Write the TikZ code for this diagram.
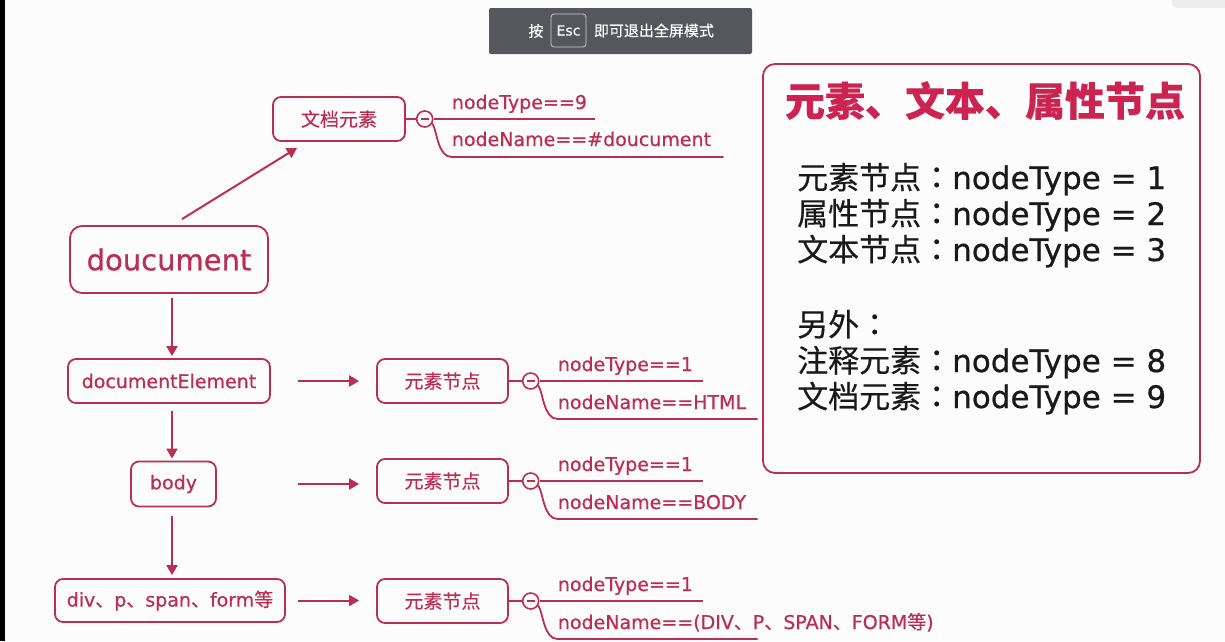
\documentclass[tikz,border=0pt]{standalone}
\usepackage{fontspec}
\setmainfont{DejaVu Sans}[FakeBold=0.6]
\newfontfamily\cjk{Noto Sans CJK SC}[FakeBold=0.4]
\newfontfamily\cjkcolon{Noto Sans CJK TC}[FakeBold=0.4]
\usetikzlibrary{positioning,arrows.meta}
\definecolor{domred}{RGB}{186,46,84}
\definecolor{titlered}{RGB}{204,36,82}
\definecolor{bargray}{RGB}{85,87,91}

\begin{document}
\begin{tikzpicture}[
    x=1pt, y=-1pt,
    node distance=10pt,
    domnode/.style={rectangle, rounded corners=8pt, draw=domred, line width=1.8pt, text=domred, font=\fontsize{19}{19}\selectfont, inner sep=0pt},
    cjknode/.style={domnode, font=\cjk\fontsize{19}{19}\selectfont},
    fold/.style={circle, draw=domred, line width=1.6pt, minimum size=16pt, inner sep=0pt},
    twig/.style={draw=domred, line width=1.8pt},
    leaf/.style={text=domred, font=\fontsize{19}{19}\selectfont, anchor=base west, inner sep=0pt},
    flow/.style={draw=domred, line width=2pt, -{Triangle[length=10pt,width=11pt]}},
    fact/.style={anchor=base west, inner sep=0pt, text=black!90, font=\fontsize{31}{31}\selectfont}
    ]
    \useasboundingbox (0,0) rectangle (1225,641);
    \fill[white!99!black] (0,0) rectangle (1225,641);
    \fill[black] (0,0) rectangle (5,641);
    \fill[black!7, rounded corners=6pt] (1172,-10) rectangle (1235,8);

    \node (escbar) [fill=bargray, rounded corners=2pt, minimum width=263pt, minimum height=46pt] at (620.5,31) {};
    \node (press) [text=white, font=\cjk\fontsize{15}{15}\selectfont] at (536,31) {按};
    \node (esckey) [draw=white!80!black, line width=0.8pt, rounded corners=3pt, minimum width=35pt, minimum height=33pt, text=white, font=\fontsize{14}{14}\selectfont] at (568.5,30.5) {Esc};
    \node (quit) [text=white, font=\cjk\fontsize{15}{15}\selectfont, right=4pt of esckey] {即可退出全屏模式};

    \node (doc) [domnode, minimum width=198pt, minimum height=67pt, rounded corners=12pt, font=\fontsize{29}{29}\selectfont] at (169,259.5) {doucument};
    \node (docnode) [cjknode, minimum width=132pt, minimum height=44pt] at (339,119) {文档元素};
    \node (docel) [domnode, minimum width=202pt, minimum height=44pt] at (169,381) {documentElement};
    \node (body) [domnode, minimum width=85pt, minimum height=45pt] at (173.5,484) {body};
    \node (tags) [domnode, minimum width=230pt, minimum height=43pt] at (170,600.5) {div{\cjk 、}p{\cjk 、}span{\cjk 、}form{\cjk 等}};

    \coordinate (spine) at (172,0);
    \coordinate (arrowstart) at (298,0);
    \draw[flow] ([xshift=13pt,yshift=6pt]doc.north) -- ([xshift=-42pt,yshift=-6pt]docnode.south);
    \draw[flow, shorten <=4pt, shorten >=2pt] (spine |- doc.south) -- (spine |- docel.north);
    \draw[flow, shorten <=7pt, shorten >=2pt] (spine |- docel.south) -- (spine |- body.north);
    \draw[flow, shorten <=9pt, shorten >=3pt] (spine |- body.south) -- (spine |- tags.north);

    \node (fold0) [fold, right=of docnode] {};
    \draw[twig] (docnode.east) -- (fold0.west);
    \draw[twig, line width=1.4pt] ([xshift=-4pt]fold0.center) -- ([xshift=4pt]fold0.center);
    \coordinate (typeend0) at ([xshift=170pt]fold0.center);
    \coordinate (nameend0) at ([xshift=299pt,yshift=-38pt]fold0.center);
    \draw[twig] (fold0.east) -- (typeend0);
    \draw[twig] (fold0.-30) .. controls +(5,8) and +(-14,0) .. ([xshift=27pt,yshift=-38pt]fold0.center) -- (nameend0);
    \node (typetext0) [leaf] at ([xshift=27pt,yshift=10pt]fold0.center) {nodeType==9};
    \node (nametext0) [leaf] at ([xshift=27pt,yshift=-27pt]fold0.center) {nodeName==\#doucument};

    \foreach \row/\y/\src/\tail in {1/381/docel/HTML, 2/481/body/BODY, 3/601/tags/{(DIV{\cjk 、}P{\cjk 、}SPAN{\cjk 、}FORM{\cjk 等})}} {
      \node (el\row) [cjknode, minimum width=131pt, minimum height=44pt] at (442.5,\y) {元素节点};
      \draw[flow, shorten >=17pt] (arrowstart |- \src.east) -- (el\row.west |- \src.east);
      \node (fold\row) [fold, right=13pt of el\row] {};
      \draw[twig] (el\row.east) -- (fold\row.west);
      \draw[twig, line width=1.4pt] ([xshift=-4pt]fold\row.center) -- ([xshift=4pt]fold\row.center);
      \coordinate (typeend\row) at ([xshift=172pt]fold\row.center);
      \coordinate (nameend\row) at ([xshift=227pt,yshift=-38pt]fold\row.center);
      \draw[twig] (fold\row.east) -- (typeend\row);
      \draw[twig] (fold\row.-30) .. controls +(5,8) and +(-14,0) .. ([xshift=27pt,yshift=-38pt]fold\row.center) -- (nameend\row);
      \node (typetext\row) [leaf] at ([xshift=27pt,yshift=10pt]fold\row.center) {nodeType==1};
      \node (nametext\row) [leaf] at ([xshift=27pt,yshift=-28pt]fold\row.center) {nodeName==\tail};
    }

    \node (summary) [draw=domred, line width=1.8pt, rounded corners=12pt, minimum width=437pt, minimum height=409pt] at (981.5,268.5) {};
    \node (title) [anchor=base, inner sep=0pt, text=titlered, font=\cjk\bfseries\fontsize{40}{40}\selectfont] at (985,116) {元素、文本、属性节点};
    \foreach \base/\kind/\num in {189/元素节点/1, 225/属性节点/2, 261/文本节点/3, 372/注释元素/8, 408/文档元素/9}
      \node [fact] at (797,\base) {{\cjk \kind}{\cjkcolon ：}nodeType = \num};
    \node (besides) [fact, font=\cjk\fontsize{31}{31}\selectfont] at (797,336) {另外{\cjkcolon ：}};
\end{tikzpicture}
\end{document}
